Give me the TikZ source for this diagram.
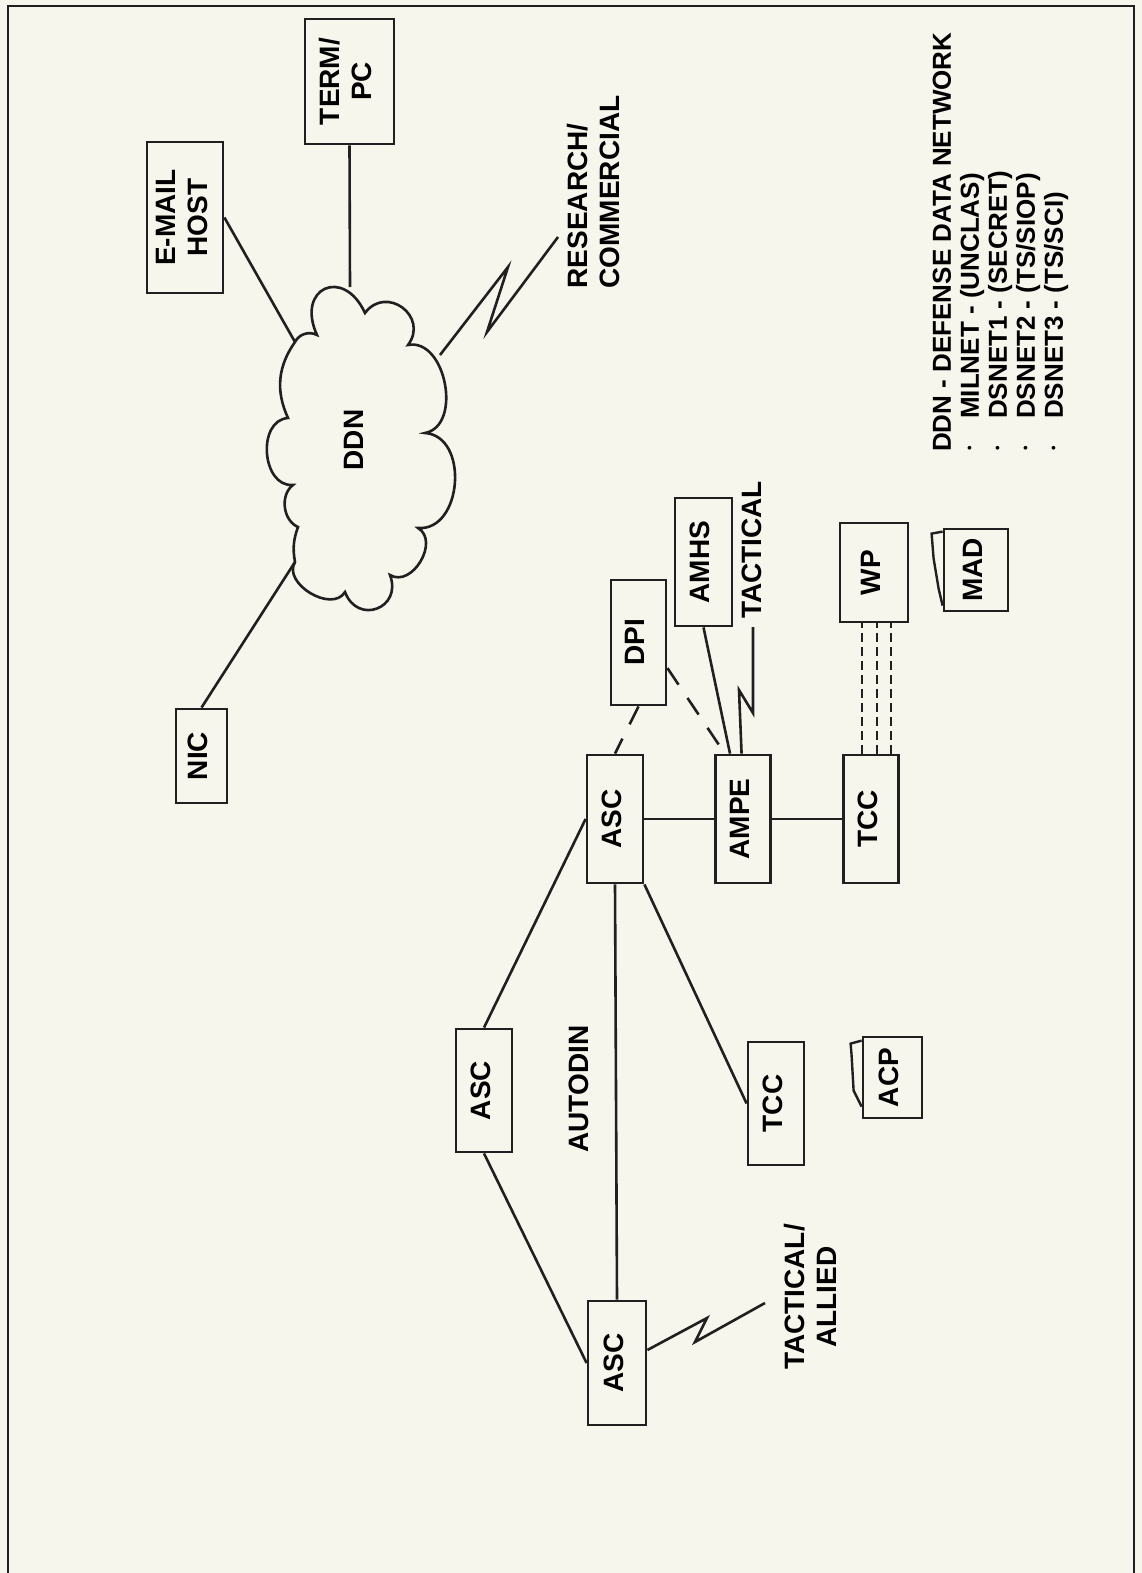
\documentclass[tikz,border=0pt]{standalone}
\usepackage{fontspec}
\setmainfont{Liberation Sans}
\usetikzlibrary{calc,positioning}
\definecolor{ink}{HTML}{231F20}
\definecolor{paper}{HTML}{F7F6EC}
\newcommand{\lbl}{\fontsize{28}{32}\selectfont\bfseries}
\newcommand{\lgd}{\fontsize{26}{28}\selectfont\bfseries}
\newcommand{\vtext}[1]{\rotatebox{90}{\begin{tabular}{@{}c@{}}#1\end{tabular}}}
\newcommand{\vleft}[1]{\rotatebox{90}{\begin{tabular}{@{}l@{}}#1\end{tabular}}}
\newcommand{\dotitem}{\makebox[33pt][l]{\hspace{1pt}\raisebox{5pt}{\scalebox{0.5}{\textbullet}}}}
\tikzset{
  frame/.style={
    draw=ink,
    line width=2.8pt
  },
  sysbox/.style={
    draw=ink,
    fill=paper,
    line width=2.8pt,
    inner sep=0pt,
    font=\lbl
  },
  caption/.style={
    inner sep=0pt,
    font=\lbl
  },
  link/.style={
    draw=ink,
    line width=2.6pt
  },
  dashlink/.style={
    link,
    dash pattern=on 20pt off 16pt
  },
  wplink/.style={
    draw=ink,
    line width=2pt,
    dash pattern=on 9pt off 5pt
  },
  radio/.style={
    draw=ink,
    line width=2.6pt,
    line join=miter
  },
  cloudline/.style={
    draw=ink,
    line width=2.6pt
  },
  sheet/.style={
    draw=ink,
    line width=2.4pt
  }
}

\begin{document}
\begin{tikzpicture}[x=1pt, y=-1pt, node distance=70pt]
  \useasboundingbox[fill=paper] (0,0) rectangle (1142,1573);
  \draw[frame] (8,1573) -- (8,6) -- (1134,6) -- (1134,1573);

  % DDN cloud
  \draw[cloudline] (295,342)
    to[bend left=45] (317,335)
    to[bend left=90, looseness=2.5] (365,313)
    to[bend left=90, looseness=1.7] (408,345)
    to[bend left=90, looseness=1.1] (425,433)
    to[bend left=90, looseness=1.2] (418,528)
    to[bend left=90, looseness=1.2] (390,575)
    to[bend left=90, looseness=1.9] (345,592)
    to[bend left=90, looseness=1.1] (295,562)
    to[bend left=15] (298,527)
    to[bend left=60] (293,485)
    to[bend left=90, looseness=1.2] (288,418)
    to[bend left=30] (295,342);
  \node[caption] (ddn) at (357,440) {\vtext{DDN}};
  \coordinate (cEmail) at (295,342);
  \coordinate (cTerm) at (350,287);
  \coordinate (cRadio) at (440,355);
  \coordinate (cNic) at (295,562);
  \coordinate (resEnd) at (558,237);

  % DDN hosts
  \node[sysbox, minimum width=76pt, minimum height=151pt] (email) at (185,217.5) {\vtext{E-MAIL\\HOST}};
  \node[sysbox, minimum width=89pt, minimum height=125pt] (term) at (349.5,81.5) {\vtext{TERM/\\PC}};
  \node[sysbox, minimum width=51pt, minimum height=94pt] (nic) at (201.5,756) {\vtext{NIC}};
  \node[caption] (research) at (597,192) {\vleft{RESEARCH/\\COMMERCIAL}};
  \draw[link] (email.east) -- (cEmail);
  \draw[link] (term.south) -- (cTerm);
  \draw[link] (nic.north) -- (cNic);
  \draw[radio] (cRadio) -- (508,267) -- (487,332) -- (resEnd);

  % AUTODIN
  \node[sysbox, minimum width=56pt, minimum height=128pt] (ascA) at (615,819) {\vtext{ASC}};
  \node[sysbox, minimum width=55pt, minimum height=128pt, right=of ascA] (ampe) {\vtext{AMPE}};
  \node[sysbox, minimum width=55pt, minimum height=128pt, right=of ampe] (tccA) {\vtext{TCC}};
  \node[sysbox, minimum width=55pt, minimum height=125pt] (dpi) at (638.5,642.5) {\vtext{DPI}};
  \node[sysbox, minimum width=57pt, minimum height=128pt] (amhs) at (703.5,562) {\vtext{AMHS}};
  \node[caption] (tactical) at (755,550) {\vtext{TACTICAL}};
  \node[sysbox, minimum width=68pt, minimum height=99pt] (wp) at (874,572.5) {\vtext{WP}};
  \node[sysbox, minimum width=64pt, minimum height=82pt] (mad) at (976,570) {\vtext{MAD}};
  \node[sysbox, minimum width=56pt, minimum height=123pt] (ascB) at (484,1090.5) {\vtext{ASC}};
  \node[sysbox, minimum width=58pt, minimum height=124pt] (ascC) at (617,1363) {\vtext{ASC}};
  \node[sysbox, minimum width=56pt, minimum height=123pt] (tccB) at (776,1103.5) {\vtext{TCC}};
  \node[sysbox, minimum width=59pt, minimum height=81pt] (acp) at (892.5,1077.5) {\vtext{ACP}};
  \node[caption] (autodin) at (582,1089) {\vtext{AUTODIN}};
  \node[caption] (allied) at (814,1297) {\vtext{TACTICAL/\\ALLIED}};
  \coordinate (tacEnd) at (753,627);
  \coordinate (alliedEnd) at (765,1303);

  \draw[link] (ascA.east) -- (ampe.west);
  \draw[link] (ampe.east) -- (tccA.west);
  \draw[link] (ascA.west) -- (ascB.north);
  \draw[link] (ascB.south) -- (ascC.west);
  \draw[link] (ascA.south) -- (ascC.north);
  \draw[link] (ascA.south east) -- (tccB.west);
  \draw[link] (amhs.south) -- ($(ampe.north west)!0.27!(ampe.north east)$);
  \draw[dashlink] (dpi.south) -- (ascA.north);
  \draw[dashlink] ($(dpi.east)!0.4!(dpi.south east)$) -- ($(ampe.north west)!0.18!(ampe.north east)$);
  \draw[radio] ($(ampe.north west)!0.47!(ampe.north east)$) -- (739,690) -- (753,713) -- (tacEnd);
  \draw[radio] ($(ascC.east)+(0,-13)$) -- (707,1318) -- (695,1342) -- (alliedEnd);
  \foreach \dx in {-9.5,5.5,19.5}
    \draw[wplink] ([xshift=\dx]tccA.north) -- ([xshift=\dx]tccA.north |- wp.south);

  % stacked sheets
  \draw[sheet] ($(mad.north west)+(0,4)$) -- ++(-11,2) -- ++(2,25) -- ++(5,30) -- ++(4,17);
  \draw[sheet] ($(acp.north west)+(0,5)$) -- ++(-11,3) -- ++(1,12) -- ++(2,35) -- ++(5,10) -- ++(3,6);

  % legend
  \node[caption, font=\lgd, anchor=south west] (legend) at (931,452) {\vleft{DDN - DEFENSE DATA NETWORK\\
    \dotitem MILNET - (UNCLAS)\\
    \dotitem DSNET1 - (SECRET)\\
    \dotitem DSNET2 - (TS/SIOP)\\
    \dotitem DSNET3 - (TS/SCI)}};
\end{tikzpicture}
\end{document}
